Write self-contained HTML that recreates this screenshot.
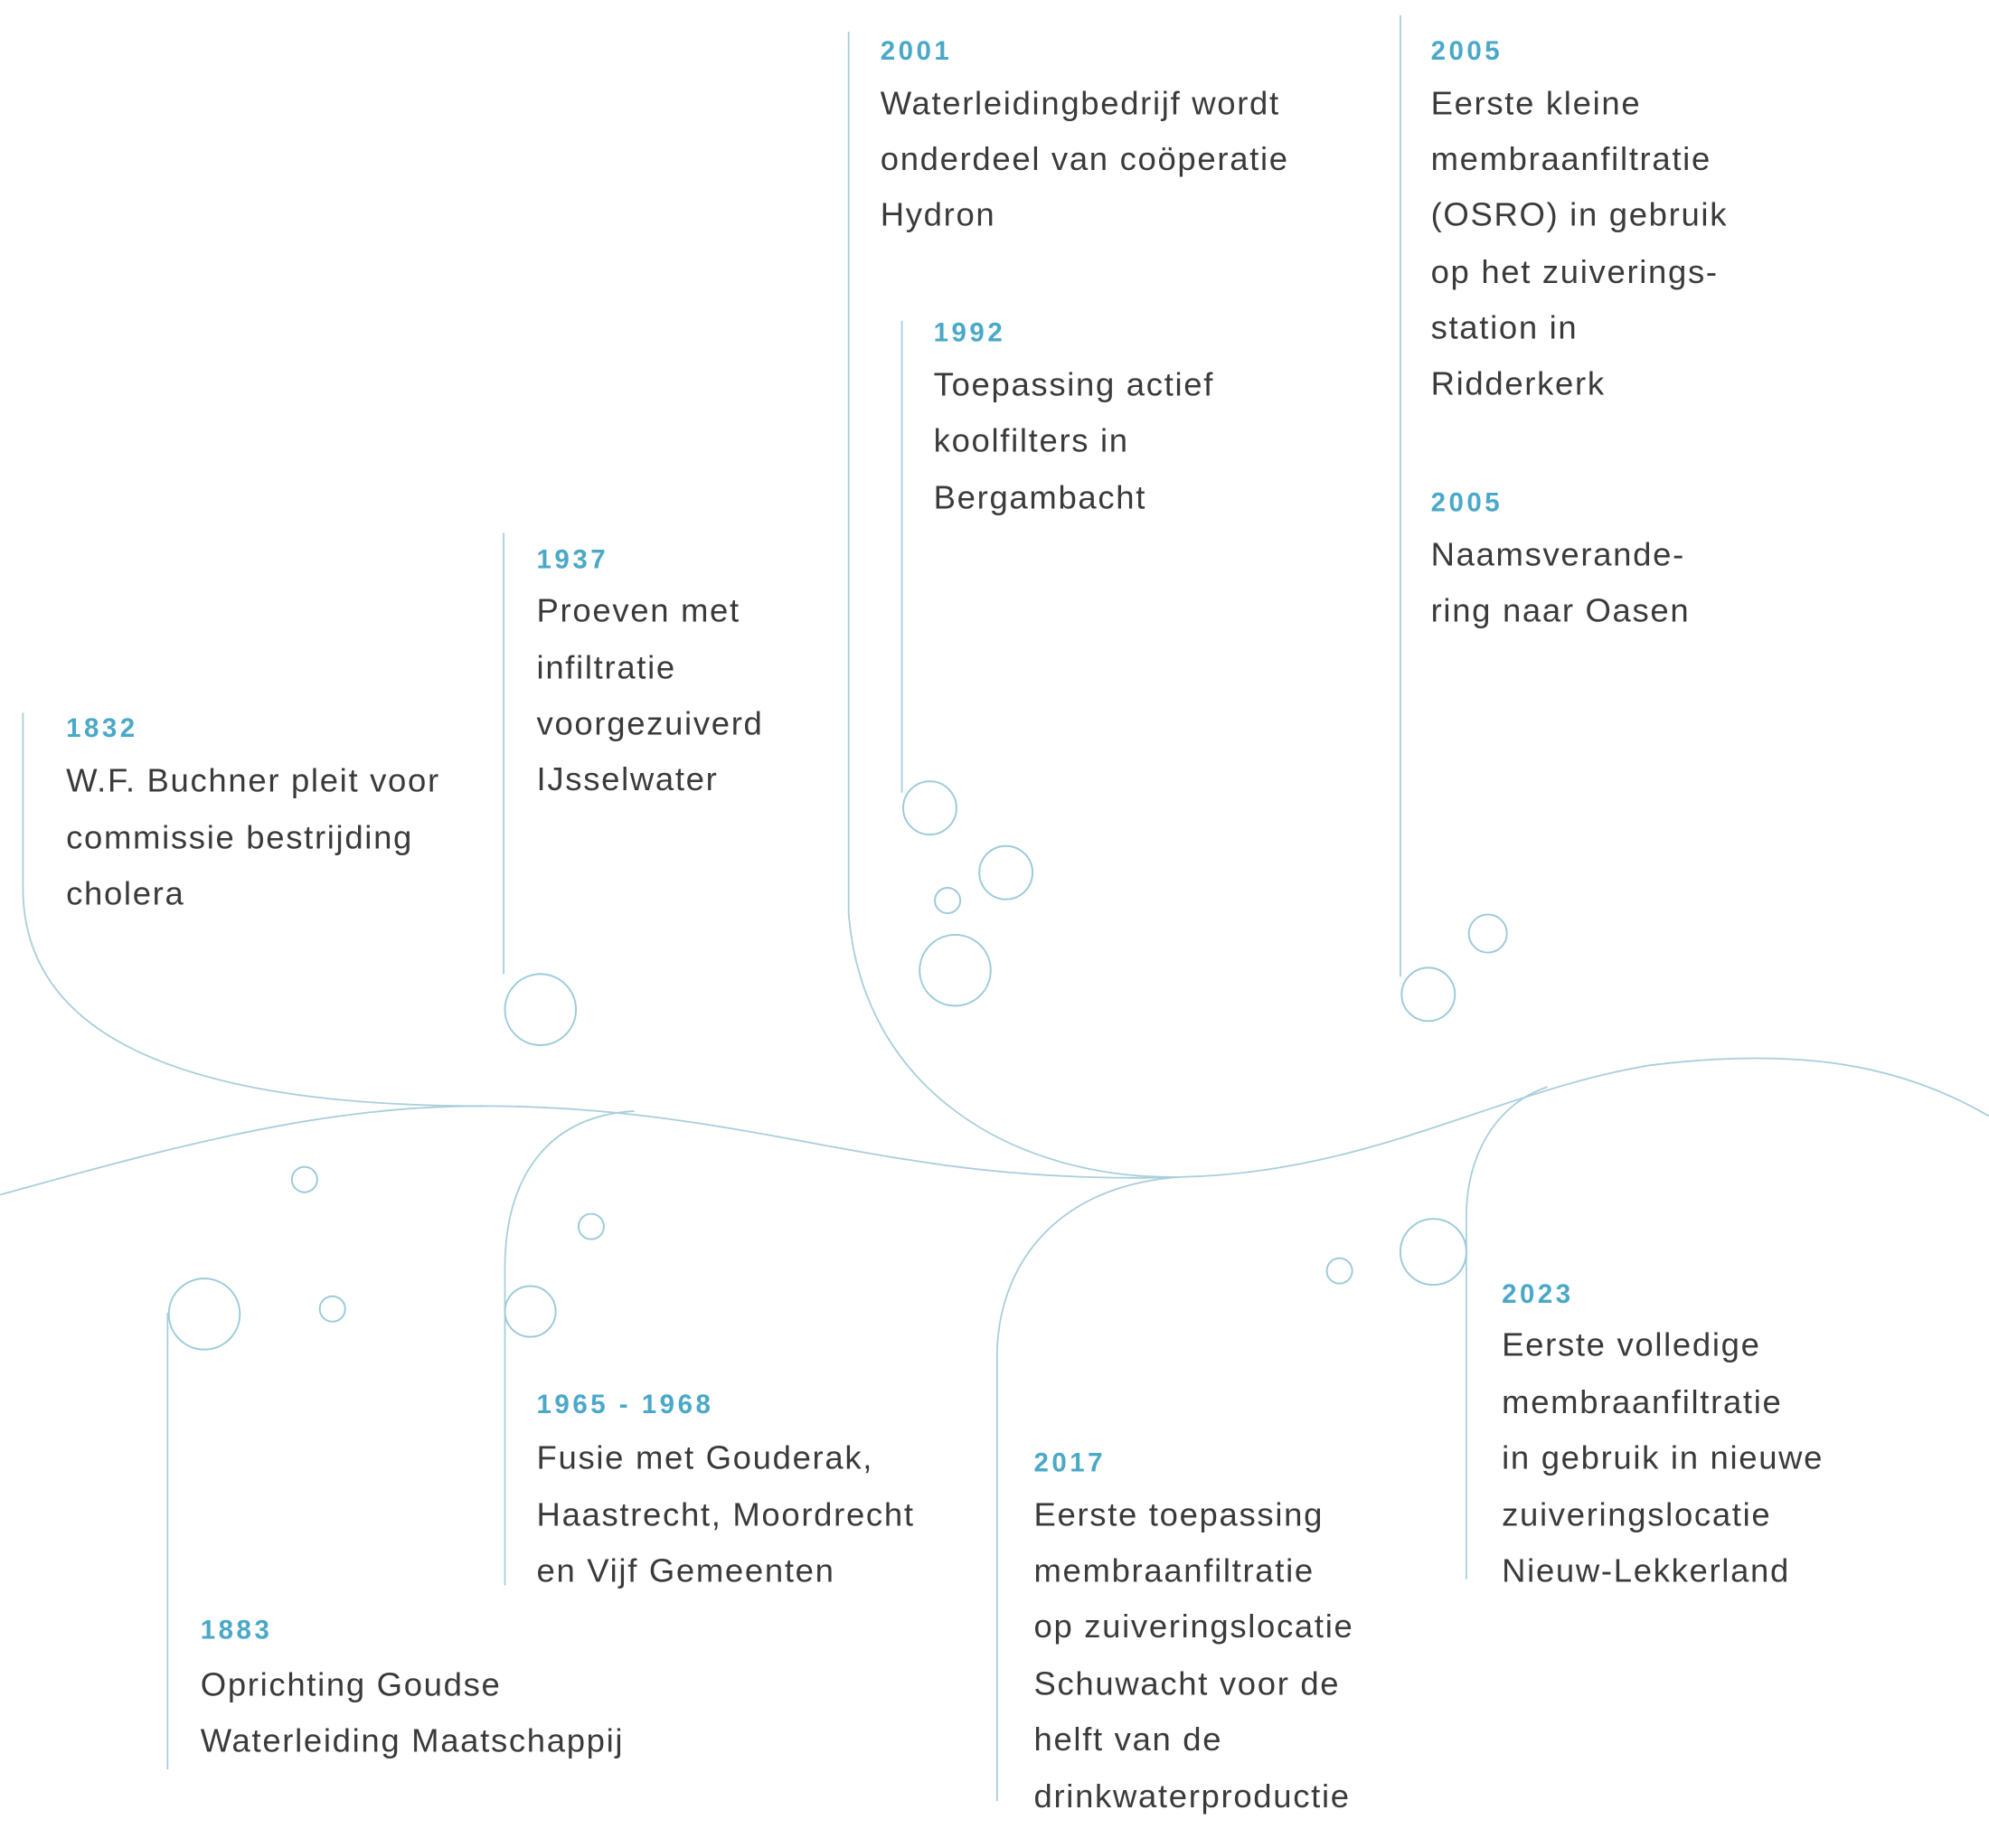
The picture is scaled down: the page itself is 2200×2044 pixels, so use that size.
<!DOCTYPE html>
<html><head><meta charset="utf-8"><style>
html,body{margin:0;padding:0;background:#fff;}
svg{display:block;}
.y{font-family:"Liberation Sans",sans-serif;font-size:21px;font-weight:bold;fill:#4aa8c8;letter-spacing:2.5px;}
.t{font-family:"Liberation Sans",sans-serif;font-size:26px;fill:#3a3a3a;letter-spacing:1.2px;}
.l{fill:none;stroke:#a9cfdb;stroke-width:1.3;}
.c{fill:#fff;stroke:#9ccbd9;stroke-width:1.4;}
</style></head><body>
<svg width="2200" height="2044" viewBox="0 0 1568 1457" xmlns="http://www.w3.org/2000/svg">
<!-- lines -->
<path class="l" d="M0,942 C150,900 260,872 380,872 C520,872 620,900 720,915 C800,928 880,930 930,928 C1080,925 1180,860 1300,840 C1420,825 1500,840 1568,880"/>
<path class="l" d="M18,562 L18,700 C18,820 150,872 380,872"/>
<path class="l" d="M397,420 L397,768"/>
<path class="l" d="M669,25 L669,720 C680,860 800,930 930,928"/>
<path class="l" d="M711,253 L711,625"/>
<path class="l" d="M1104,12 L1104,770"/>
<path class="l" d="M132,1035 L132,1395"/>
<path class="l" d="M500,876 C430,880 398,930 398,1000 L398,1250"/>
<path class="l" d="M930,928 C830,935 786,1000 786,1070 L786,1420"/>
<path class="l" d="M1220,857 C1180,870 1156,910 1156,960 L1156,1245"/>
<!-- circles -->
<circle class="c" cx="426" cy="796" r="28"/>
<circle class="c" cx="418" cy="1034" r="20"/>
<circle class="c" cx="466" cy="967" r="10"/>
<circle class="c" cx="240" cy="930" r="10"/>
<circle class="c" cx="262" cy="1032" r="10"/>
<circle class="c" cx="161" cy="1036" r="28"/>
<circle class="c" cx="733" cy="637" r="21"/>
<circle class="c" cx="793" cy="688" r="21"/>
<circle class="c" cx="747" cy="710" r="10"/>
<circle class="c" cx="753" cy="765" r="28"/>
<circle class="c" cx="1126" cy="784" r="21"/>
<circle class="c" cx="1173" cy="736" r="15"/>
<circle class="c" cx="1130" cy="987" r="26"/>
<circle class="c" cx="1056" cy="1002" r="10"/>
<!-- texts -->
<text class="y" x="52" y="581">1832</text>
<text class="t" x="52" y="624">W.F. Buchner pleit voor</text>
<text class="t" x="52" y="669">commissie bestrijding</text>
<text class="t" x="52" y="713">cholera</text>

<text class="y" x="423" y="448">1937</text>
<text class="t" x="423" y="490">Proeven met</text>
<text class="t" x="423" y="535">infiltratie</text>
<text class="t" x="423" y="579">voorgezuiverd</text>
<text class="t" x="423" y="623">IJsselwater</text>

<text class="y" x="694" y="47">2001</text>
<text class="t" x="694" y="90">Waterleidingbedrijf wordt</text>
<text class="t" x="694" y="134">onderdeel van coöperatie</text>
<text class="t" x="694" y="178">Hydron</text>

<text class="y" x="736" y="269">1992</text>
<text class="t" x="736" y="312">Toepassing actief</text>
<text class="t" x="736" y="356">koolfilters in</text>
<text class="t" x="736" y="401">Bergambacht</text>

<text class="y" x="1128" y="47">2005</text>
<text class="t" x="1128" y="90">Eerste kleine</text>
<text class="t" x="1128" y="134">membraanfiltratie</text>
<text class="t" x="1128" y="178">(OSRO) in gebruik</text>
<text class="t" x="1128" y="223">op het zuiverings-</text>
<text class="t" x="1128" y="267">station in</text>
<text class="t" x="1128" y="311">Ridderkerk</text>

<text class="y" x="1128" y="403">2005</text>
<text class="t" x="1128" y="446">Naamsverande-</text>
<text class="t" x="1128" y="490">ring naar Oasen</text>

<text class="y" x="423" y="1114">1965 - 1968</text>
<text class="t" x="423" y="1158">Fusie met Gouderak,</text>
<text class="t" x="423" y="1203">Haastrecht, Moordrecht</text>
<text class="t" x="423" y="1247">en Vijf Gemeenten</text>

<text class="y" x="158" y="1292">1883</text>
<text class="t" x="158" y="1337">Oprichting Goudse</text>
<text class="t" x="158" y="1381">Waterleiding Maatschappij</text>

<text class="y" x="815" y="1160">2017</text>
<text class="t" x="815" y="1203">Eerste toepassing</text>
<text class="t" x="815" y="1247">membraanfiltratie</text>
<text class="t" x="815" y="1291">op zuiveringslocatie</text>
<text class="t" x="815" y="1336">Schuwacht voor de</text>
<text class="t" x="815" y="1380">helft van de</text>
<text class="t" x="815" y="1425">drinkwaterproductie</text>

<text class="y" x="1184" y="1027">2023</text>
<text class="t" x="1184" y="1069">Eerste volledige</text>
<text class="t" x="1184" y="1114">membraanfiltratie</text>
<text class="t" x="1184" y="1158">in gebruik in nieuwe</text>
<text class="t" x="1184" y="1203">zuiveringslocatie</text>
<text class="t" x="1184" y="1247">Nieuw-Lekkerland</text>
</svg>
</body></html>
